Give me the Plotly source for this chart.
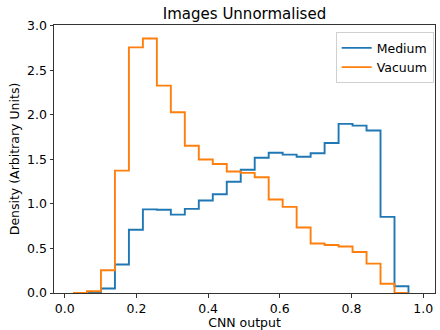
import plotly.graph_objects as go

bin_edges = [0.023, 0.062, 0.101, 0.140, 0.179, 0.218, 0.257, 0.296, 0.335, 0.374,
             0.413, 0.452, 0.491, 0.530, 0.569, 0.608, 0.647, 0.686, 0.725, 0.764,
             0.803, 0.842, 0.881, 0.920, 0.959]
medium = [0.0, 0.01, 0.05, 0.32, 0.71, 0.94, 0.935, 0.88, 0.945, 1.04, 1.11, 1.25,
          1.385, 1.52, 1.575, 1.555, 1.53, 1.57, 1.685, 1.90, 1.88, 1.825, 0.855, 0.075]
vacuum = [0.0, 0.02, 0.255, 1.375, 2.76, 2.86, 2.33, 2.03, 1.655, 1.50, 1.45, 1.365,
          1.35, 1.30, 1.05, 0.968, 0.736, 0.556, 0.54, 0.523, 0.46, 0.33, 0.104, 0.0]
series_names = ["Medium", "Vacuum"]
series_colors = ["#1f77b4", "#ff7f0e"]
x_ticks = [0.0, 0.2, 0.4, 0.6, 0.8, 1.0]
y_ticks = [0.0, 0.5, 1.0, 1.5, 2.0, 2.5, 3.0]


def step_xy(edges, vals):
    xs = [edges[0]] + list(edges[:-1]) + [edges[-1]]
    ys = [0.0] + list(vals) + [0.0]
    return xs, ys


fig = go.Figure()
for name, vals, col in zip(series_names, [medium, vacuum], series_colors):
    xs, ys = step_xy(bin_edges, vals)
    fig.add_trace(go.Scatter(x=xs, y=ys, mode="lines", name=name,
                             line=dict(color=col, width=1.9, shape="hv")))

font = "DejaVu Sans, Liberation Sans, sans-serif"
axis_common = dict(showgrid=False, zeroline=False, showline=True, linecolor="#333",
                   linewidth=1, mirror=True, ticks="outside", ticklen=3.5,
                   tickwidth=1, tickcolor="#333", tickformat=".1f",
                   tickfont=dict(family=font, size=12.5, color="black"))

fig.update_layout(
    width=440, height=330,
    margin=dict(l=54, r=5, t=25, b=37),
    paper_bgcolor="white", plot_bgcolor="white",
    font=dict(family=font, size=12.5, color="black"),
    title=dict(text="Images Unnormalised", x=0.5, xref="paper", xanchor="center",
               y=1 - 13.5 / 330, yref="container", yanchor="middle",
               font=dict(family=font, size=15, color="black")),
    xaxis=dict(range=[-0.03, 1.033], tickvals=x_ticks,
               title=dict(text="CNN output", standoff=2,
                          font=dict(family=font, size=12.5, color="black")),
               **axis_common),
    yaxis=dict(range=[0, 3.011], tickvals=y_ticks,
               title=dict(text="Density (Arbitrary Units)", standoff=4,
                          font=dict(family=font, size=12.5, color="black")),
               **axis_common),
    legend=dict(x=0.9966, y=0.973, xanchor="right", yanchor="top",
                bordercolor="#d0d0d0", borderwidth=1, bgcolor="rgba(255,255,255,0.8)",
                font=dict(family=font, size=12.5, color="black")),
    showlegend=True,
)

fig.write_html("out.html")
